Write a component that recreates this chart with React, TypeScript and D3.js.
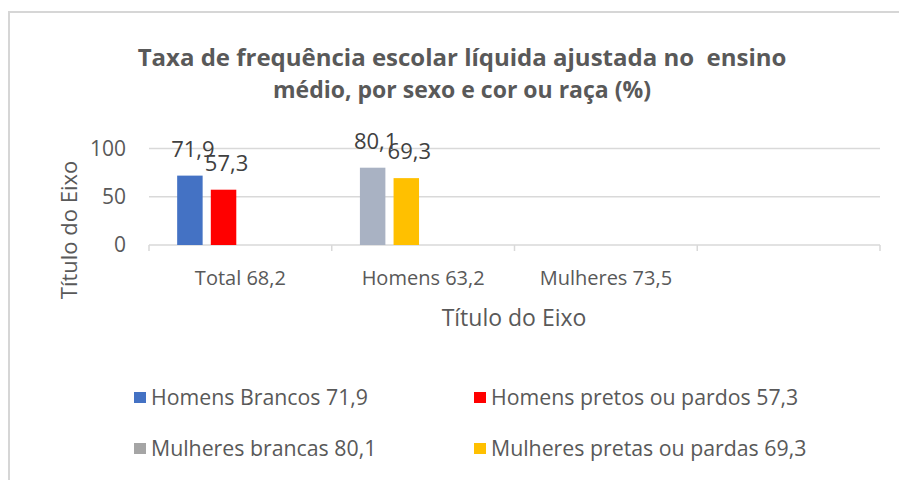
import { useMemo } from "react";
import * as d3 from "d3";

const WIDTH = 899;
const HEIGHT = 480;

const titleLines = [
  "Taxa de frequência escolar líquida ajustada no  ensino",
  "médio, por sexo e cor ou raça (%)",
];
const categories = ["Total 68,2", "Homens 63,2", "Mulheres 73,5", ""];
const yTicks = [0, 50, 100];

const seriesNames = [
  "Homens Brancos 71,9",
  "Homens pretos ou pardos 57,3",
  "Mulheres brancas 80,1",
  "Mulheres pretas ou pardas 69,3",
];
const seriesValues = [71.9, 57.3, 80.1, 69.3];
const seriesCategory = ["Total 68,2", "Total 68,2", "Homens 63,2", "Homens 63,2"];
// column inside the category cluster (Excel put them in the first two slots)
const seriesSlot = [0, 1, 0, 1];
const seriesColors = ["#4472C4", "#FF0000", "#A9B2C3", "#FFC000"];

const TEXT = "#595959";
const FONT = "'Open Sans', 'DejaVu Sans', sans-serif";

const ptBR = d3.formatLocale({
  decimal: ",",
  thousands: ".",
  grouping: [3],
  currency: ["R$", ""],
});
const fmt = ptBR.format(".1f");

export default function App() {
  const plot = { left: 149, right: 880, top: 148.5, bottom: 245 };

  const x0 = useMemo(
    () => d3.scaleBand().domain(categories).range([plot.left, plot.right]).padding(0),
    []
  );
  const x1 = useMemo(
    () =>
      d3
        .scaleBand<number>()
        .domain([0, 1, 2, 3])
        .range([0, x0.bandwidth()])
        .paddingInner(0.243)
        .paddingOuter(0.837),
    [x0]
  );
  const y = useMemo(
    () => d3.scaleLinear().domain([0, 100]).range([plot.bottom, plot.top]),
    []
  );

  const boundaries = categories.map((c) => x0(c) as number).concat(plot.right);

  return (
    <div style={{ position: "absolute", left: 0, top: 0 }}>
      <svg width={WIDTH} height={HEIGHT} style={{ display: "block", background: "#fff" }}>
        <rect x={9} y={12} width={WIDTH} height={HEIGHT} fill="#fff" stroke="#d6d6d6" strokeWidth={2} />

        {titleLines.map((t, i) => (
          <text
            key={i}
            x={462}
            y={66 + i * 32}
            textAnchor="middle"
            fill={TEXT}
            fontFamily={FONT}
            fontWeight="bold"
            fontSize={i === 0 ? 24 : 23}
            style={{ whiteSpace: "pre" }}
          >
            {t}
          </text>
        ))}

        {/* gridlines */}
        {yTicks.slice(1).map((t) => (
          <line key={t} x1={plot.left} x2={plot.right} y1={y(t)} y2={y(t)} stroke="#d9d9d9" strokeWidth={1.5} />
        ))}
        {yTicks.map((t) => (
          <text
            key={t}
            x={126}
            y={y(t)}
            dy="0.35em"
            textAnchor="end"
            fill={TEXT}
            fontFamily={FONT}
            fontSize={21}
          >
            {t}
          </text>
        ))}

        {/* category axis */}
        <line x1={plot.left} x2={plot.right} y1={plot.bottom} y2={plot.bottom} stroke="#d9d9d9" strokeWidth={1.5} />
        {boundaries.map((b, i) => (
          <line key={i} x1={b} x2={b} y1={plot.bottom} y2={plot.bottom + 6} stroke="#d9d9d9" strokeWidth={1.5} />
        ))}
        {categories.map((c) => (
          <text
            key={c}
            x={(x0(c) as number) + x0.bandwidth() / 2}
            y={285}
            textAnchor="middle"
            fill={TEXT}
            fontFamily={FONT}
            fontSize={20}
          >
            {c}
          </text>
        ))}

        {/* bars */}
        {seriesValues.map((v, i) => {
          const bx = (x0(seriesCategory[i]) as number) + (x1(seriesSlot[i]) as number);
          return (
            <rect key={i} x={bx} y={y(v)} width={x1.bandwidth()} height={plot.bottom - y(v)} fill={seriesColors[i]} />
          );
        })}
        {seriesValues.map((v, i) => {
          const bx = (x0(seriesCategory[i]) as number) + (x1(seriesSlot[i]) as number);
          return (
            <text
              key={i}
              x={bx + x1.bandwidth() / 2 + 3}
              y={y(v) - 19}
              textAnchor="middle"
              fill="#404040"
              fontFamily={FONT}
              fontSize={22}
            >
              {fmt(v)}
            </text>
          );
        })}

        {/* axis titles */}
        <text
          transform="translate(77,230) rotate(-90)"
          textAnchor="middle"
          fill={TEXT}
          fontFamily={FONT}
          fontSize={22}
        >
          Título do Eixo
        </text>
        <text x={514} y={326} textAnchor="middle" fill={TEXT} fontFamily={FONT} fontSize={23}>
          Título do Eixo
        </text>

        {/* legend */}
        {seriesNames.map((name, i) => {
          const lx = i % 2 === 0 ? 134 : 474;
          const ly = i < 2 ? 392 : 443;
          return (
            <g key={name}>
              <rect x={lx} y={ly} width={12} height={11} fill={i === 2 ? "#A5A5A5" : seriesColors[i]} />
              <text x={lx + 17} y={ly + 13} fill={TEXT} fontFamily={FONT} fontSize={21.3}>
                {name}
              </text>
            </g>
          );
        })}
      </svg>
    </div>
  );
}
